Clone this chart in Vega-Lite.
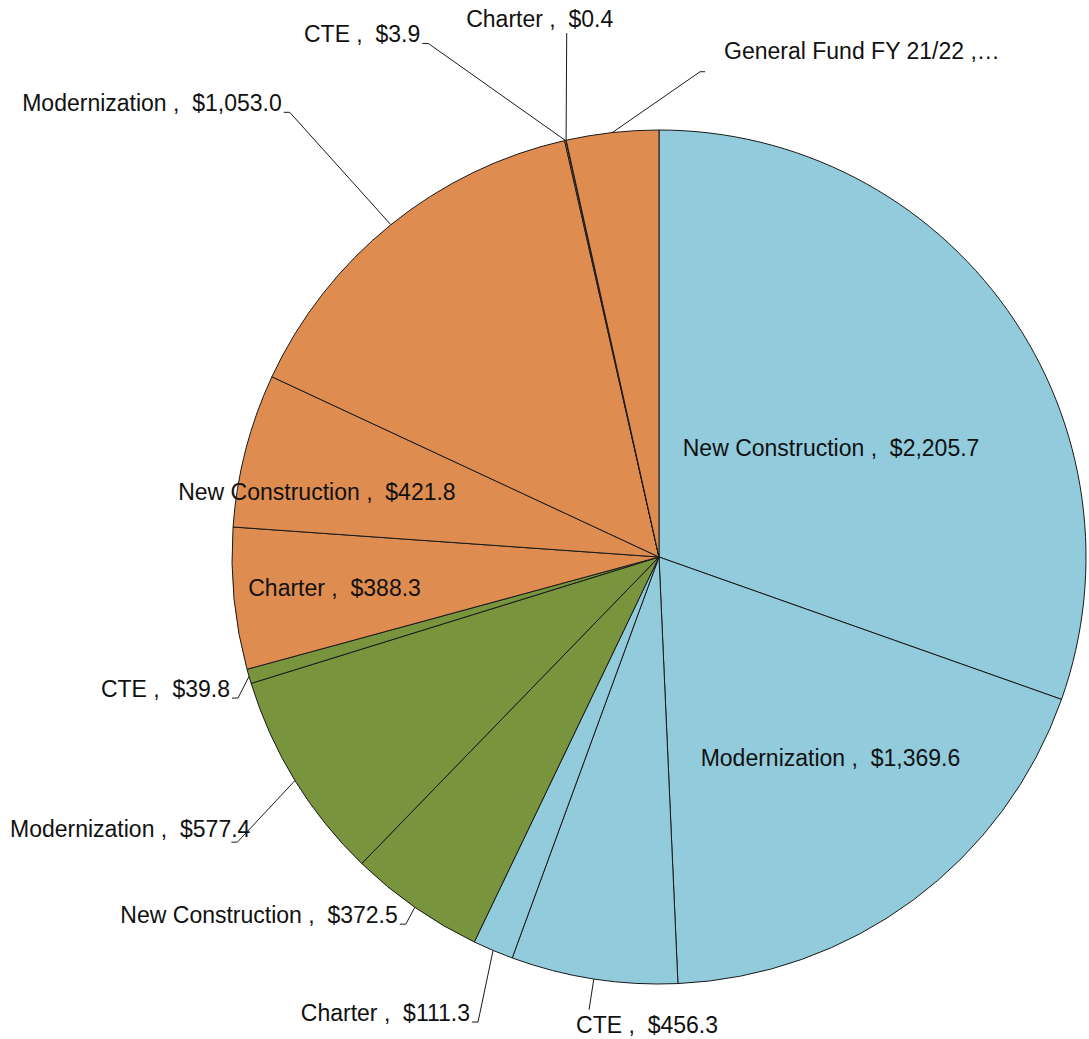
{
  "$schema": "https://vega.github.io/schema/vega-lite/v6.json",
  "autosize": {"type": "none"},
  "width": 854,
  "height": 854,
  "padding": {"left": 232, "top": 130, "right": 3, "bottom": 55},
  "background": "white",
  "config": {"view": {"stroke": null}},
  "data": {
    "values": [
      {"group": "A", "category": "New Construction", "value": 2205.7, "label": "New Construction , \u00a0$2,205.7"},
      {"group": "A", "category": "Modernization", "value": 1369.6, "label": "Modernization , \u00a0$1,369.6"},
      {"group": "A", "category": "CTE", "value": 456.3, "label": "CTE , \u00a0$456.3"},
      {"group": "A", "category": "Charter", "value": 111.3, "label": "Charter , \u00a0$111.3"},
      {"group": "B", "category": "New Construction", "value": 372.5, "label": "New Construction , \u00a0$372.5"},
      {"group": "B", "category": "Modernization", "value": 577.4, "label": "Modernization , \u00a0$577.4"},
      {"group": "B", "category": "CTE", "value": 39.8, "label": "CTE , \u00a0$39.8"},
      {"group": "C", "category": "Charter", "value": 388.3, "label": "Charter , \u00a0$388.3"},
      {"group": "C", "category": "New Construction", "value": 421.8, "label": "New Construction , \u00a0$421.8"},
      {"group": "C", "category": "Modernization", "value": 1053.0, "label": "Modernization , \u00a0$1,053.0"},
      {"group": "C", "category": "CTE", "value": 3.9, "label": "CTE , \u00a0$3.9"},
      {"group": "C", "category": "Charter", "value": 0.4, "label": "Charter , \u00a0$0.4"},
      {"group": "C", "category": "General Fund FY 21/22", "value": 253.0, "label": "General Fund FY 21/22 ,…"}
    ]
  },
  "transform": [
    {"window": [{"op": "sum", "field": "value", "as": "cum"}], "frame": [null, 0]},
    {"joinaggregate": [{"op": "sum", "field": "value", "as": "total"}]},
    {"calculate": "2*PI*(datum.cum - datum.value)/datum.total", "as": "a0"},
    {"calculate": "2*PI*datum.cum/datum.total", "as": "a1"},
    {"calculate": "(datum.a0 + datum.a1)/2", "as": "am"},
    {"calculate": "datum.value == 2205.7 || datum.value == 1369.6 || datum.value == 388.3 || datum.value == 421.8 ? 'in' : datum.value == 0.4 ? 'top' : datum.value == 456.3 ? 'bottom' : datum.value == 577.4 ? 'right2' : datum.category == 'General Fund FY 21/22' ? 'gf' : 'right'", "as": "kind"},
    {"calculate": "datum.value == 2205.7 ? 203 : datum.value == 1369.6 ? 265 : datum.value == 421.8 ? 348 : datum.value == 388.3 ? 326 : datum.value == 1053 ? 578 : datum.value == 3.9 ? 563 : datum.value == 39.8 ? 444 : datum.value == 372.5 ? 446 : datum.value == 111.3 ? 499 : datum.value == 577.4 ? 509 : datum.value == 0.4 ? 532 : datum.value == 456.3 ? 458 : 487", "as": "lr"},
    {"calculate": "datum.am + (datum.value == 2205.7 ? 0.056 : datum.value == 1369.6 ? -0.066 : datum.value == 421.8 ? -0.068 : datum.value == 1053 ? -0.014 : datum.value == 3.9 ? -0.201 : datum.value == 39.8 ? -0.04 : datum.value == 372.5 ? -0.005 : datum.value == 111.3 ? -0.028 : datum.value == 577.4 ? -0.044 : datum.value == 0.4 ? 0.045 : datum.kind == 'gf' ? 0.194 : 0)", "as": "lt"},
    {"calculate": "427*sin(datum.am)", "as": "ex"},
    {"calculate": "427*cos(datum.am)", "as": "ey"},
    {"calculate": "datum.lr*sin(datum.lt)", "as": "lx"},
    {"calculate": "datum.lr*cos(datum.lt)", "as": "ly"},
    {"calculate": "datum.lx + (datum.kind == 'gf' ? 5 : -6)", "as": "hx"}
  ],
  "layer": [
    {
      "mark": {"type": "arc", "outerRadius": 427, "stroke": "#1a1a1a", "strokeWidth": 1},
      "encoding": {
        "theta": {"field": "a0", "type": "quantitative", "scale": null, "stack": null},
        "theta2": {"field": "a1"},
        "color": {
          "field": "group",
          "type": "nominal",
          "scale": {"domain": ["A", "B", "C"], "range": ["#92CBDC", "#78943C", "#DE8C4F"]},
          "legend": null
        }
      }
    },
    {
      "transform": [{"filter": "datum.kind != 'in'"}],
      "mark": {"type": "rule", "stroke": "#1a1a1a", "strokeWidth": 1},
      "encoding": {
        "x": {"field": "ex", "type": "quantitative", "scale": {"domain": [-427, 427], "nice": false, "zero": false}, "axis": null},
        "y": {"field": "ey", "type": "quantitative", "scale": {"domain": [-427, 427], "nice": false, "zero": false}, "axis": null},
        "x2": {"field": "lx"},
        "y2": {"field": "ly"}
      }
    },
    {
      "transform": [{"filter": "datum.kind == 'right' || datum.kind == 'right2' || datum.kind == 'gf'"}],
      "mark": {"type": "rule", "stroke": "#1a1a1a", "strokeWidth": 1},
      "encoding": {
        "x": {"field": "lx", "type": "quantitative"},
        "y": {"field": "ly", "type": "quantitative"},
        "x2": {"field": "hx"}
      }
    },
    {
      "transform": [{"filter": "datum.kind == 'in'"}],
      "mark": {"type": "text", "align": "center", "baseline": "middle", "font": "Liberation Sans", "fontSize": 23, "color": "#111"},
      "encoding": {
        "theta": {"field": "lt", "type": "quantitative", "scale": null},
        "radius": {"field": "lr", "type": "quantitative", "scale": null},
        "text": {"field": "label"}
      }
    },
    {
      "transform": [{"filter": "datum.kind == 'right'"}],
      "mark": {"type": "text", "align": "right", "baseline": "alphabetic", "dx": -8, "dy": -1, "font": "Liberation Sans", "fontSize": 23, "color": "#111"},
      "encoding": {
        "theta": {"field": "lt", "type": "quantitative", "scale": null},
        "radius": {"field": "lr", "type": "quantitative", "scale": null},
        "text": {"field": "label"}
      }
    },
    {
      "transform": [{"filter": "datum.kind == 'right2'"}],
      "mark": {"type": "text", "align": "right", "baseline": "alphabetic", "dx": 13, "dy": -5, "font": "Liberation Sans", "fontSize": 23, "color": "#111"},
      "encoding": {
        "theta": {"field": "lt", "type": "quantitative", "scale": null},
        "radius": {"field": "lr", "type": "quantitative", "scale": null},
        "text": {"field": "label"}
      }
    },
    {
      "transform": [{"filter": "datum.kind == 'top'"}],
      "mark": {"type": "text", "align": "center", "baseline": "middle", "dx": -27, "dy": -13, "font": "Liberation Sans", "fontSize": 23, "color": "#111"},
      "encoding": {
        "theta": {"field": "lt", "type": "quantitative", "scale": null},
        "radius": {"field": "lr", "type": "quantitative", "scale": null},
        "text": {"field": "label"}
      }
    },
    {
      "transform": [{"filter": "datum.kind == 'bottom'"}],
      "mark": {"type": "text", "align": "left", "baseline": "middle", "dx": -13, "dy": 16, "font": "Liberation Sans", "fontSize": 23, "color": "#111"},
      "encoding": {
        "theta": {"field": "lt", "type": "quantitative", "scale": null},
        "radius": {"field": "lr", "type": "quantitative", "scale": null},
        "text": {"field": "label"}
      }
    },
    {
      "transform": [{"filter": "datum.kind == 'gf'"}],
      "mark": {"type": "text", "align": "left", "baseline": "middle", "dx": 24, "dy": -20, "font": "Liberation Sans", "fontSize": 23, "color": "#111"},
      "encoding": {
        "theta": {"field": "lt", "type": "quantitative", "scale": null},
        "radius": {"field": "lr", "type": "quantitative", "scale": null},
        "text": {"field": "label"}
      }
    }
  ]
}
